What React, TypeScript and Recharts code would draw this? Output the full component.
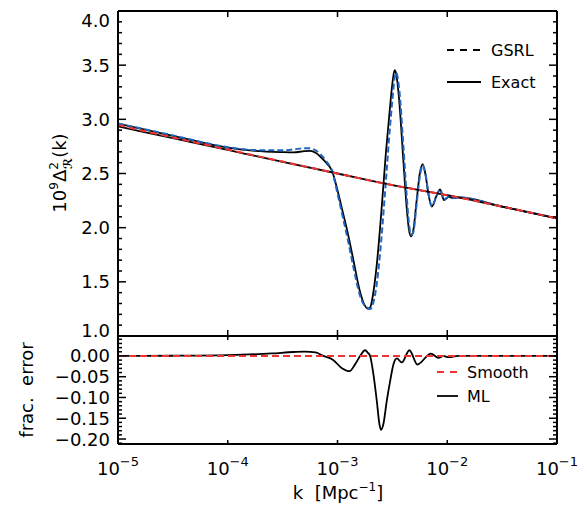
import React from 'react';
import { LineChart, Line, XAxis, YAxis } from 'recharts';

// log10(k) sample points for the feature curves
const featureLogK = [-5, -4.5, -4, -3.75, -3.5, -3.4, -3.3, -3.25, -3.2, -3.15, -3.1, -3.05, -3, -2.95, -2.9, -2.85, -2.8, -2.76, -2.72, -2.7, -2.68, -2.64, -2.6, -2.56, -2.52, -2.5, -2.48, -2.465, -2.44, -2.4, -2.37, -2.35, -2.33, -2.31, -2.28, -2.25, -2.225, -2.2, -2.17, -2.14, -2.1, -2.065, -2.03, -1.985, -1.95, -1.9, -1.5, -1];
const exactFeature = [2.96, 2.848, 2.738, 2.708, 2.697, 2.695, 2.706, 2.708, 2.692, 2.65, 2.595, 2.525, 2.345, 2.135, 1.92, 1.675, 1.43, 1.3, 1.25, 1.268, 1.36, 1.68, 2.15, 2.68, 3.13, 3.33, 3.455, 3.42, 3.2, 2.62, 2.19, 1.99, 1.92, 1.97, 2.24, 2.5, 2.587, 2.5, 2.3, 2.195, 2.29, 2.354, 2.255, 2.285, 2.272, 2.279, 2.195, 2.086];
const gsrlFeature = [2.962, 2.852, 2.743, 2.716, 2.714, 2.722, 2.734, 2.732, 2.714, 2.672, 2.61, 2.525, 2.315, 2.09, 1.86, 1.61, 1.39, 1.29, 1.258, 1.25, 1.285, 1.5, 1.9, 2.42, 2.95, 3.18, 3.38, 3.43, 3.3, 2.76, 2.3, 2.05, 1.935, 1.955, 2.21, 2.47, 2.575, 2.505, 2.31, 2.195, 2.285, 2.35, 2.26, 2.285, 2.272, 2.279, 2.195, 2.086];

// smooth (featureless) spectra
const smoothLogK = [-5, -4.5, -4, -3.5, -3, -2.5, -2, -1.5, -1];
const smoothExact = [2.935, 2.826, 2.717, 2.608, 2.5, 2.393, 2.3, 2.195, 2.086];
const smoothGsrl = [2.947, 2.832, 2.721, 2.61, 2.5, 2.393, 2.3, 2.195, 2.086];

// fractional error panel
const errLogK = [-5, -4.5, -4, -3.6, -3.4, -3.3, -3.2, -3.13, -3.04, -2.96, -2.89, -2.84, -2.794, -2.748, -2.725, -2.703, -2.673, -2.642, -2.618, -2.603, -2.582, -2.551, -2.52, -2.49, -2.459, -2.414, -2.345, -2.272, -2.149, -2.08, -2.035, -1.989, -1.9, -1];
const mlError = [0, 0.0005, 0.002, 0.006, 0.0095, 0.0105, 0.0085, 0, -0.0096, -0.0296, -0.0367, -0.0203, 0, 0.0137, 0.008, 0, -0.044, -0.108, -0.164, -0.178, -0.164, -0.108, -0.06, -0.02, -0.006, -0.0157, 0.0137, -0.0206, 0.0058, -0.0048, 0, -0.003, 0, 0];
const smoothErrLogK = [-5, -1];
const smoothErr = [0, 0];

// ticks
const xTicks = [1e-5, 1e-4, 1e-3, 1e-2, 1e-1];
const xTickExps = ['\u22125', '\u22124', '\u22123', '\u22122', '\u22121'];
const topMajorTicks = [1, 1.5, 2, 2.5, 3, 3.5, 4];
const topTickLabels = ['1.0', '1.5', '2.0', '2.5', '3.0', '3.5', '4.0'];
const errMajorTicks = [-0.2, -0.15, -0.1, -0.05, 0];
const errTickLabels = ['\u22120.20', '\u22120.15', '\u22120.10', '\u22120.05', '0.00'];

const topTicks = Array.from({ length: 31 }, (_, i) => Math.round((1 + i * 0.1) * 10) / 10);
const errTicks = Array.from({ length: 26 }, (_, i) => Math.round((-0.21 + i * 0.01) * 100) / 100);

const toData = (lk: number[], vals: number[]) => lk.map((l, i) => ({ k: Math.pow(10, l), v: vals[i] }));

const FONT = 'DejaVu Sans';
const BLUE = '#1f66c1';
const RED = '#ee3333';

const majorIndex = (list: number[], v: number) => list.findIndex((m) => Math.abs(m - v) < 1e-9);

const xTickLine = (len: number) => (p: any) => (
  <line x1={p.x} y1={p.y} x2={p.x} y2={p.y + len} stroke="#000" strokeWidth={1.5} />
);

const XTickLabelled = (p: any) => {
  const i = xTicks.findIndex((t) => Math.abs(t - p.payload.value) / t < 1e-6);
  return (
    <g>
      <line x1={p.x} y1={p.y} x2={p.x} y2={p.y - 4} stroke="#000" strokeWidth={1.5} />
      <text x={p.x} y={p.y + 31} textAnchor="middle" fontSize={18} fontFamily={FONT} fill="#000">
        10<tspan dy={-9} fontSize={13}>{xTickExps[i]}</tspan>
      </text>
    </g>
  );
};

const yTick = (majors: number[], labels: string[], side: 'left' | 'right', nudge?: (v: number) => number) => (p: any) => {
  const v = p.payload.value;
  const i = majorIndex(majors, v);
  const len = i >= 0 ? 8 : 4;
  const dir = side === 'left' ? 1 : -1;
  return (
    <g>
      <line x1={p.x} y1={p.y} x2={p.x + dir * len} y2={p.y} stroke="#000" strokeWidth={1.5} />
      {side === 'left' && i >= 0 && (
        <text x={p.x - 8} y={p.y + 6.5 + (nudge ? nudge(v) : 0)} textAnchor="end" fontSize={18} fontFamily={FONT} fill="#000">
          {labels[i]}
        </text>
      )}
    </g>
  );
};

const axisStyle = { stroke: '#000', strokeWidth: 2 };

const App = () => {
  return (
    <div style={{ position: 'absolute', left: 0, top: 0, width: 587, height: 506, background: '#fff' }}>
      <div style={{ position: 'absolute', left: 0, top: 0 }}>
        <LineChart width={587} height={340} margin={{ top: 10, right: 29, bottom: 0, left: 0 }}>
          <XAxis xAxisId="b" type="number" dataKey="k" scale="log" domain={[1e-5, 1e-1]} ticks={xTicks} interval={0}
            allowDataOverflow orientation="bottom" height={4} tickSize={0} tickMargin={0} tickLine={false}
            axisLine={axisStyle} tick={xTickLine(-6)} />
          <XAxis xAxisId="t" type="number" dataKey="k" scale="log" domain={[1e-5, 1e-1]} ticks={xTicks} interval={0}
            allowDataOverflow orientation="top" height={1} tickSize={0} tickMargin={0} tickLine={false}
            axisLine={axisStyle} tick={xTickLine(6)} />
          <YAxis yAxisId="l" type="number" domain={[1, 4]} ticks={topTicks} interval={0} allowDataOverflow width={118}
            tickSize={0} tickMargin={0} tickLine={false} axisLine={axisStyle}
            tick={yTick(topMajorTicks, topTickLabels, 'left', (v) => (v === 4 ? 9 : v === 1 ? -6 : 0))}
            label={() => (
              <text x={66} y={173} transform="rotate(-90 66 173)" textAnchor="middle" fontSize={18} fontFamily={FONT} fill="#000">
                10<tspan dy={-8} fontSize={12}>9</tspan><tspan dy={8}>Δ</tspan><tspan dy={-8} fontSize={12}>2</tspan>
                <tspan dx={-7} dy={14} fontSize={12} fontWeight="bold">ℛ</tspan><tspan dy={-6}>(k)</tspan>
              </text>
            )} />
          <YAxis yAxisId="r" orientation="right" type="number" domain={[1, 4]} ticks={topTicks} interval={0} allowDataOverflow width={1}
            tickSize={0} tickMargin={0} tickLine={false} axisLine={axisStyle}
            tick={yTick(topMajorTicks, topTickLabels, 'right')} />
          <Line xAxisId="b" yAxisId="l" data={toData(featureLogK, exactFeature)} dataKey="v" type="monotone"
            stroke="#000" strokeWidth={1.8} dot={false} isAnimationActive={false} />
          <Line xAxisId="b" yAxisId="l" data={toData(featureLogK, gsrlFeature)} dataKey="v" type="monotone"
            stroke={BLUE} strokeWidth={2} strokeDasharray="6 3" dot={false} isAnimationActive={false} />
          <Line xAxisId="b" yAxisId="l" data={toData(smoothLogK, smoothExact)} dataKey="v" type="monotone"
            stroke="#000" strokeWidth={1.8} dot={false} isAnimationActive={false} />
          <Line xAxisId="b" yAxisId="l" data={toData(smoothLogK, smoothGsrl)} dataKey="v" type="monotone"
            stroke={RED} strokeWidth={2} strokeDasharray="7 4" dot={false} isAnimationActive={false} />
        </LineChart>
      </div>
      <div style={{ position: 'absolute', left: 0, top: 335 }}>
        <LineChart width={587} height={171} margin={{ top: 0, right: 29, bottom: 0, left: 0 }}>
          <XAxis xAxisId="b" type="number" dataKey="k" scale="log" domain={[1e-5, 1e-1]} ticks={xTicks} interval={0}
            allowDataOverflow orientation="bottom" height={62} tickSize={0} tickMargin={0} tickLine={false}
            axisLine={axisStyle} tick={(p: any) => <XTickLabelled {...p} />}
            label={() => (
              <text x={338} y={164} textAnchor="middle" fontSize={18} fontFamily={FONT} fill="#000">
                k{'\u00a0\u00a0'}[Mpc<tspan dy={-8} fontSize={12}>{'\u22121'}</tspan><tspan dy={8}>]</tspan>
              </text>
            )} />
          <XAxis xAxisId="t" type="number" dataKey="k" scale="log" domain={[1e-5, 1e-1]} ticks={xTicks} interval={0}
            allowDataOverflow orientation="top" height={1} tickSize={0} tickMargin={0} tickLine={false}
            axisLine={axisStyle} tick={xTickLine(4)} />
          <YAxis yAxisId="l" type="number" domain={[-0.212, 0.048]} ticks={errTicks} interval={0} allowDataOverflow width={118}
            tickSize={0} tickMargin={0} tickLine={false} axisLine={axisStyle}
            tick={yTick(errMajorTicks, errTickLabels, 'left')}
            label={() => (
              <text x={33} y={55} transform="rotate(-90 33 55)" textAnchor="middle" fontSize={18} fontFamily={FONT} fill="#000">
                frac.{'\u00a0\u00a0'}error
              </text>
            )} />
          <YAxis yAxisId="r" orientation="right" type="number" domain={[-0.212, 0.048]} ticks={errTicks} interval={0} allowDataOverflow width={1}
            tickSize={0} tickMargin={0} tickLine={false} axisLine={axisStyle}
            tick={yTick(errMajorTicks, errTickLabels, 'right')} />
          <Line xAxisId="b" yAxisId="l" data={toData(errLogK, mlError)} dataKey="v" type="monotone"
            stroke="#000" strokeWidth={1.8} dot={false} isAnimationActive={false} />
          <Line xAxisId="b" yAxisId="l" data={toData(smoothErrLogK, smoothErr)} dataKey="v" type="linear"
            stroke={RED} strokeWidth={2} strokeDasharray="7 4" dot={false} isAnimationActive={false} />
        </LineChart>
      </div>
      <svg width={587} height={506} style={{ position: 'absolute', left: 0, top: 0, pointerEvents: 'none' }}>
        <line x1={447} y1={50} x2={481} y2={50} stroke="#000" strokeWidth={1.8} strokeDasharray="7 6" />
        <text x={491} y={56} fontSize={16} fontFamily={FONT} fill="#000">GSRL</text>
        <line x1={447} y1={82} x2={481} y2={82} stroke="#000" strokeWidth={1.8} />
        <text x={491} y={88} fontSize={16} fontFamily={FONT} fill="#000">Exact</text>
        <line x1={437} y1={372} x2={458} y2={372} stroke={RED} strokeWidth={2} strokeDasharray="7 6" />
        <text x={467} y={378} fontSize={16} fontFamily={FONT} fill="#000">Smooth</text>
        <line x1={437} y1={396} x2={458} y2={396} stroke="#000" strokeWidth={1.8} />
        <text x={467} y={402} fontSize={16} fontFamily={FONT} fill="#000">ML</text>
      </svg>
    </div>
  );
};

export default App;
